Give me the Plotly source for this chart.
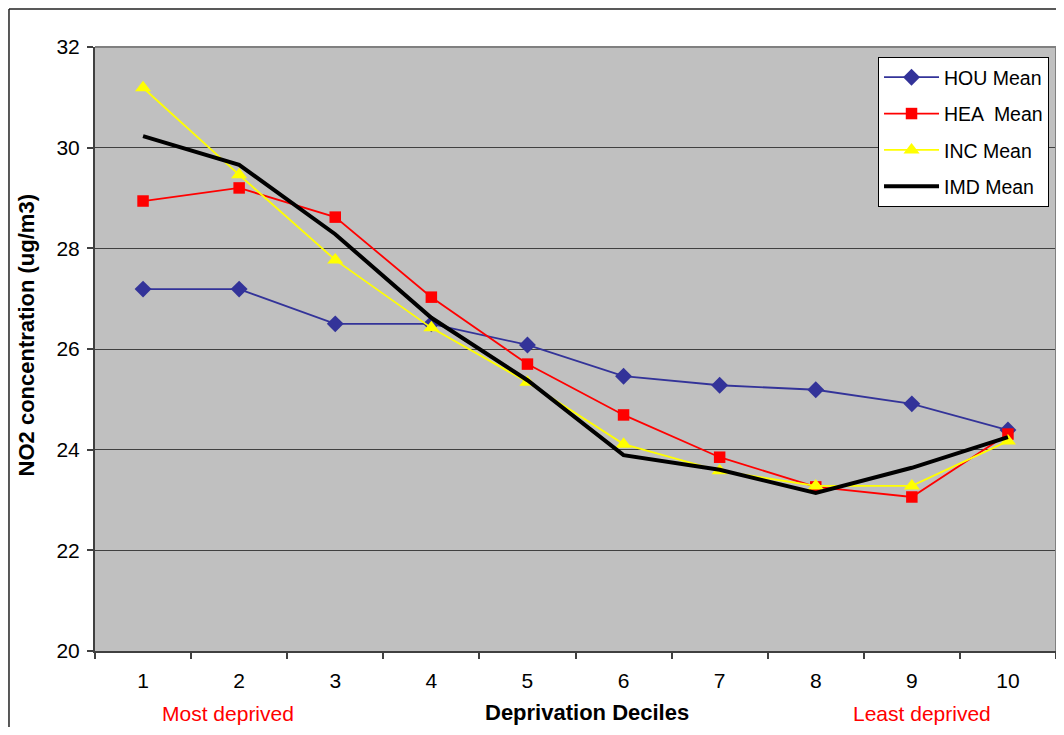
import plotly.graph_objects as go

deciles = ["1", "2", "3", "4", "5", "6", "7", "8", "9", "10"]
hou_mean = [27.19, 27.19, 26.50, 26.50, 26.08, 25.46, 25.28, 25.19, 24.91, 24.39]
hea_mean = [28.94, 29.20, 28.62, 27.03, 25.70, 24.69, 23.85, 23.26, 23.06, 24.31]
inc_mean = [31.19, 29.46, 27.77, 26.42, 25.34, 24.11, 23.58, 23.28, 23.28, 24.17]
imd_mean = [30.23, 29.66, 28.28, 26.62, 25.38, 23.89, 23.60, 23.14, 23.64, 24.25]
y_ticks = [20, 22, 24, 26, 28, 30, 32]

FONT = "Liberation Sans, Arial, sans-serif"

fig = go.Figure()
fig.add_trace(go.Scatter(x=deciles, y=hou_mean, name="HOU Mean", mode="lines+markers",
                         legendgroup="a",
                         line=dict(color="#333399", width=1.8),
                         marker=dict(symbol="diamond", size=13, color="#333399")))
fig.add_trace(go.Scatter(x=deciles, y=hea_mean, name="HEA  Mean", mode="lines+markers",
                         legendgroup="b",
                         line=dict(color="#FF0000", width=1.8),
                         marker=dict(symbol="square", size=11.5, color="#FF0000")))
fig.add_trace(go.Scatter(x=deciles, y=inc_mean, name="INC Mean", mode="lines+markers",
                         legendgroup="c",
                         line=dict(color="#FFFF00", width=1.8),
                         marker=dict(symbol="triangle-up", size=14, color="#FFFF00")))
fig.add_trace(go.Scatter(x=deciles, y=imd_mean, name="IMD Mean", mode="lines",
                         legendgroup="d",
                         line=dict(color="#000000", width=4)))

fig.update_layout(
    width=1048, height=719,
    margin=dict(l=87, r=0, t=39, b=76),
    paper_bgcolor="white",
    plot_bgcolor="#C0C0C0",
    font=dict(family=FONT, size=20, color="black"),
    showlegend=True,
    legend=dict(x=0.8148, y=0.9834, xanchor="left", yanchor="top",
                bgcolor="white", bordercolor="black", borderwidth=1,
                font=dict(family=FONT, size=19.5), tracegroupgap=8,
                itemwidth=55),
    xaxis=dict(type="category", range=[-0.5, 9.5], tickson="boundaries", ticks="outside",
               ticklen=6, tickcolor="#404040", tickwidth=1.5, showgrid=False, showline=True,
               linecolor="#404040", linewidth=2, tickfont=dict(size=21),
               ticklabelstandoff=10),
    yaxis=dict(range=[20, 32], tickvals=y_ticks, ticks="outside", ticklen=6,
               tickcolor="#404040", tickwidth=1.5, showgrid=True, gridcolor="#404040",
               gridwidth=1, showline=True, linecolor="#404040", linewidth=2,
               zeroline=False, tickfont=dict(size=21), ticklabelstandoff=3),
    annotations=[
        dict(text="<b>NO2 concentration (ug/m3)</b>", x=-0.0715, y=0.523,
             xref="paper", yref="paper", textangle=-90, showarrow=False,
             xanchor="center", yanchor="middle", font=dict(size=22)),
        dict(text="<b>Deprivation Deciles</b>", x=0.512, y=-0.1258,
             xref="paper", yref="paper", showarrow=False,
             xanchor="center", yanchor="bottom", font=dict(size=22)),
        dict(text="Most deprived", x=0.1384, y=-0.1258, xref="paper", yref="paper",
             showarrow=False, xanchor="center", yanchor="bottom",
             font=dict(color="#FF0000", size=21)),
        dict(text="Least deprived", x=0.8606, y=-0.1258, xref="paper", yref="paper",
             showarrow=False, xanchor="center", yanchor="bottom",
             font=dict(color="#FF0000", size=21)),
    ],
    shapes=[
        dict(type="line", xref="paper", yref="paper", x0=0, x1=1, y0=1, y1=1,
             line=dict(color="#808080", width=2)),
        dict(type="line", xref="paper", yref="paper", x0=1, x1=1, y0=0, y1=1,
             line=dict(color="#808080", width=2)),
        dict(type="line", xref="paper", yref="paper", x0=-0.0895, x1=-0.0895, y0=-0.2, y1=1.0629,
             line=dict(color="#222222", width=1.5)),
        dict(type="line", xref="paper", yref="paper", x0=-0.0895, x1=1.05, y0=1.0629, y1=1.0629,
             line=dict(color="#222222", width=1.5)),
    ],
)

fig.write_html("out.html")
